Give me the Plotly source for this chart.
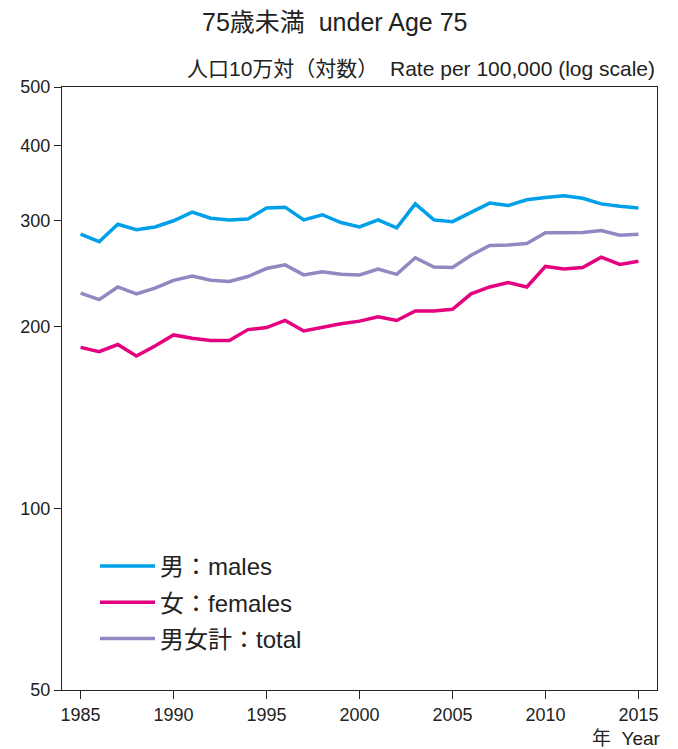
import plotly.graph_objects as go

years = list(range(1985, 2016))
males = [285, 277, 296, 290, 293, 300, 310, 303, 301, 302, 315, 316, 301, 307, 298, 293,
         301, 292, 320, 301, 299, 310, 321, 318, 325, 328, 330, 327, 320, 317, 315]
females = [185, 182, 187, 179, 186, 194, 191.5, 190, 190, 198, 199.5, 205, 197, 200, 202.5, 204.5,
           208, 205, 212.6, 212.6, 214, 227, 233, 237, 233, 252, 249.5, 251, 261, 254, 257]
total = [227.5, 222, 233, 227, 232, 239, 243, 239, 238, 242.5, 250, 253.5, 244, 247, 244.5, 244,
         249.5, 244.5, 260.5, 251.5, 251, 263, 273, 273.5, 275, 286.5, 286.5, 287, 289, 284, 285]

series_names = ["男：males", "女：females", "男女計：total"]
series_values = [males, females, total]
colors = ["#00A0E9", "#E4007F", "#9486C1"]

y_ticks = [50, 100, 200, 300, 400, 500]
x_ticks = [1985, 1990, 1995, 2000, 2005, 2010, 2015]

FONT = "Liberation Sans, Noto Sans CJK JP, sans-serif"

# page body adds an 8px margin, so the figure is drawn 8px smaller
W, H = 670, 741
ML, MR, MT, MB = 54, 21, 79, 59
PW, PH = W - ML - MR, H - MT - MB

fig = go.Figure()
for i, (name, vals, col) in enumerate(zip(series_names, series_values, colors)):
    fig.add_trace(go.Scatter(x=years, y=vals, mode="lines", name=name,
                             legendgroup=f"g{i}",
                             line=dict(color=col, width=3.5)))

fig.update_layout(
    width=W, height=H,
    margin=dict(l=ML, r=MR, t=MT, b=MB),
    paper_bgcolor="white", plot_bgcolor="white",
    font=dict(family=FONT, size=18, color="#222"),
    showlegend=True,
    legend=dict(x=(87 - ML) / PW, y=(682 - 536) / PH, xanchor="left", yanchor="top",
                font=dict(size=24, color="#222"), bgcolor="rgba(0,0,0,0)",
                tracegroupgap=2, itemwidth=55),
    xaxis=dict(range=[1984, 2016], tickvals=x_ticks, ticks="outside", ticklen=8,
               tickcolor="#222", showline=True, linecolor="#222", linewidth=1.2,
               mirror=True, showgrid=False, zeroline=False, automargin=False,
               tickfont=dict(size=18)),
    yaxis=dict(type="log", range=[1.69897, 2.69897], tickvals=y_ticks,
               ticktext=[str(v) for v in y_ticks], ticks="outside", ticklen=7,
               tickcolor="#222", showline=True, linecolor="#222", linewidth=1.2,
               mirror=True, showgrid=False, zeroline=False, automargin=False,
               tickfont=dict(size=18)),
    annotations=[
        dict(text="75歳未満  under Age 75", x=(326 - ML) / PW, xref="paper",
             y=1 + (MT - 14) / PH, yref="paper", xanchor="center", yanchor="middle",
             showarrow=False, font=dict(size=25, color="#222")),
        dict(text="人口10万対（対数）  Rate per 100,000 (log scale)", x=1, xref="paper",
             y=1, yref="paper", yshift=19, xanchor="right", yanchor="middle",
             showarrow=False, font=dict(size=21, color="#222")),
        dict(text="年  Year", x=1, xref="paper", xanchor="right", xshift=6,
             y=0, yref="paper", yshift=-48, yanchor="middle",
             showarrow=False, font=dict(size=19, color="#222")),
    ],
)

fig.write_html("out.html")
